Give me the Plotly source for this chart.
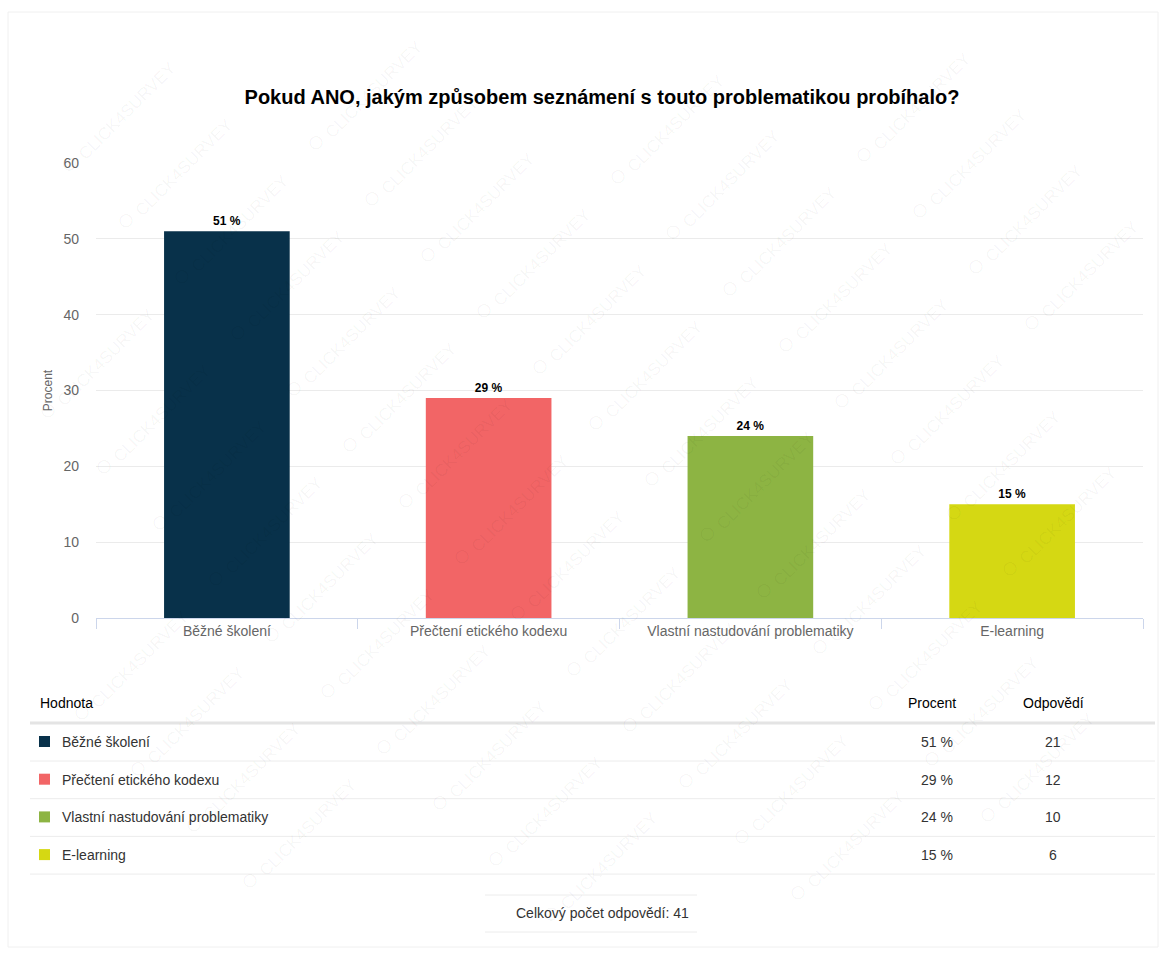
import plotly.graph_objects as go

# Survey answers
categories = ["Běžné školení", "Přečtení etického kodexu",
              "Vlastní nastudování problematiky", "E-learning"]
percent = [51, 29, 24, 15]
responses = [21, 12, 10, 6]
total_responses = 41
y_ticks = [0, 10, 20, 30, 40, 50, 60]

colors = ["#08314a", "#f26566", "#8db443", "#d5d813"]
FONT = "Liberation Sans, Arial, sans-serif"

W, H = 1164, 953
L, R, T, B = 96, 21, 163, 335
PW, PH = W - L - R, H - T - B


def px(x):
    return (x - L) / PW


def py(y):
    return (H - B - y) / PH


def label(x, y, text, size=14, color="#333", xanchor="center"):
    return dict(x=px(x), y=py(y), xref="paper", yref="paper", text=text,
                showarrow=False, xanchor=xanchor, yanchor="middle",
                font=dict(family=FONT, size=size, color=color))


fig = go.Figure()
fig.add_trace(go.Bar(
    x=categories, y=percent,
    marker=dict(color=colors, line=dict(width=0)),
    width=0.48,
    texttemplate="<b>%{y} %</b>",
    textposition="outside",
    textfont=dict(family=FONT, size=12, color="#000"),
    cliponaxis=False,
    hoverinfo="skip",
))

shapes = []
ann = []

# card outline
shapes.append(dict(type="rect", xref="paper", yref="paper",
                   x0=px(8), x1=px(1158), y0=py(12), y1=py(947),
                   line=dict(color="#f0f0f0", width=1), fillcolor="rgba(0,0,0,0)",
                   layer="below"))

# faint diagonal brand watermark, kept inside the card
wm_text = ("<span style='font-size:30px'>○</span> CLICK4SURVEY")
half = 62
for i in range(-20, 25):
    for j in range(-10, 12):
        cx = 60 + i * 56 + j * 134
        cy = 60 + i * 56 - j * 134
        if 14 + half < cx < 1152 - half and 16 + half < cy < 942 - half:
            ann.append(dict(x=px(cx), y=py(cy), xref="paper", yref="paper",
                            text=wm_text, showarrow=False, textangle=-45,
                            xanchor="center", yanchor="middle",
                            font=dict(family=FONT, size=17,
                                      color="rgba(0,0,0,0.045)")))

# table header
ann.append(label(38, 703, "Hodnota", color="#000", xanchor="left"))
ann.append(label(932, 703, "Procent", color="#000"))
ann.append(label(1053, 703, "Odpovědí", color="#000"))
shapes.append(dict(type="line", xref="paper", yref="paper",
                   x0=px(30), x1=px(1155), y0=py(723), y1=py(723),
                   line=dict(color="#e4e4e4", width=3)))

row_y0 = 742
row_h = 37.7
for i, (c, p, n, col) in enumerate(zip(categories, percent, responses, colors)):
    yc = row_y0 + i * row_h
    shapes.append(dict(type="rect", xref="paper", yref="paper",
                       x0=px(39), x1=px(50), y0=py(yc - 6), y1=py(yc + 5),
                       fillcolor=col, line=dict(width=0)))
    ann.append(label(60, yc, c, xanchor="left"))
    ann.append(label(937, yc, f"{p} %"))
    ann.append(label(1053, yc, str(n)))
    shapes.append(dict(type="line", xref="paper", yref="paper",
                       x0=px(30), x1=px(1155), y0=py(yc + 19), y1=py(yc + 19),
                       line=dict(color="#ececec", width=1)))

# total
ann.append(label(602, 913, f"Celkový počet odpovědí: {total_responses}"))
for yy in (895, 932):
    shapes.append(dict(type="line", xref="paper", yref="paper",
                       x0=px(485), x1=px(697), y0=py(yy), y1=py(yy),
                       line=dict(color="#ececec", width=1)))

fig.update_layout(
    width=W, height=H,
    margin=dict(l=L, r=R, t=T, b=B, pad=0),
    paper_bgcolor="#ffffff", plot_bgcolor="rgba(0,0,0,0)",
    title=dict(text="<b>Pokud ANO, jakým způsobem seznámení s touto problematikou probíhalo?</b>",
               x=602 / W, xanchor="center", y=1 - 97 / H, yanchor="middle",
               font=dict(family=FONT, size=20, color="#000")),
    showlegend=False,
    shapes=shapes,
    annotations=ann,
    xaxis=dict(
        type="category",
        showline=True, linecolor="#ccd6eb", linewidth=1,
        ticks="outside", tickson="boundaries", ticklen=10, tickcolor="#ccd6eb",
        showgrid=False, zeroline=False,
        tickfont=dict(family=FONT, size=14, color="#666"),
        fixedrange=True,
    ),
    yaxis=dict(
        range=[0, 60], tickvals=y_ticks,
        showgrid=True, gridcolor="#ebebeb", gridwidth=1,
        zeroline=False, showline=False, ticks="",
        ticklabelstandoff=16,
        tickfont=dict(family=FONT, size=14, color="#666"),
        title=dict(text="Procent", standoff=8,
                   font=dict(family=FONT, size=12, color="#666")),
        fixedrange=True,
    ),
)

fig.write_html("out.html")
